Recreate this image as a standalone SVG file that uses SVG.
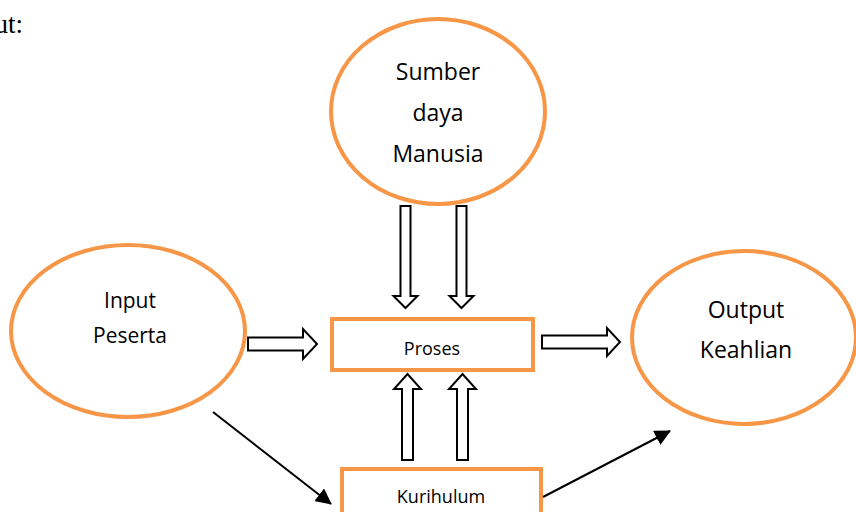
<svg xmlns="http://www.w3.org/2000/svg" width="856" height="512" viewBox="0 0 856 512">
<defs>
<style>
.node{fill:#fff;stroke:#F79646;stroke-width:4}
.t{font-family:"Open Sans","Noto Sans",sans-serif;fill:#000;text-anchor:middle}
.blk{fill:#fff;stroke:#000;stroke-width:2;stroke-linejoin:miter}
.ln{stroke:#000;stroke-width:2;fill:none}
</style>
<marker id="ahb" markerWidth="16" markerHeight="16" refX="15" refY="8" orient="auto" markerUnits="userSpaceOnUse" viewBox="0 0 16 16">
<path d="M0,0 L16,8 L0,16 z" fill="#000"/>
</marker>
</defs>
<rect width="856" height="512" fill="#fff"/>
<text x="23" y="33" font-family="Liberation Serif,serif" font-size="27" text-anchor="end">ut:</text>

<g id="sdm">
<ellipse class="node" cx="438" cy="111.5" rx="107" ry="92.5"/>
<text class="t" font-size="23" x="438" y="80">Sumber</text>
<text class="t" font-size="23" x="438" y="121">daya</text>
<text class="t" font-size="23" x="438" y="162">Manusia</text>
</g>
<g id="input">
<ellipse class="node" cx="128" cy="331" rx="117" ry="86"/>
<text class="t" font-size="21" x="130" y="308">Input</text>
<text class="t" font-size="21" x="130" y="343">Peserta</text>
</g>
<g id="output">
<ellipse class="node" cx="744" cy="337.5" rx="112" ry="86.5"/>
<text class="t" font-size="23" x="746" y="318">Output</text>
<text class="t" font-size="23" x="746" y="358">Keahlian</text>
</g>
<g id="proses">
<rect class="node" x="332" y="319" width="201" height="51"/>
<text class="t" font-size="18" x="432" y="355">Proses</text>
</g>
<g id="kurikulum">
<rect class="node" x="342" y="469" width="199" height="60"/>
<text class="t" font-size="18" x="441" y="503">Kurihulum</text>
</g>

<g id="connectors">
<polygon class="blk" points="400.5,206 410.5,206 410.5,296 417.5,296 405.5,308 393.5,296 400.5,296"/>
<polygon class="blk" points="456.5,206 466.5,206 466.5,296 473.5,296 461.5,308 449.5,296 456.5,296"/>
<polygon class="blk" points="402,460 413,460 413,389 421,389 407.5,374 394,389 402,389"/>
<polygon class="blk" points="457,460 468,460 468,389 476,389 462.5,374 449,389 457,389"/>
<polygon class="blk" points="248,337.5 303,337.5 303,329 317,344 303,359 303,350.5 248,350.5"/>
<polygon class="blk" points="542,335.5 607,335.5 607,328 620,342 607,356 607,348.5 542,348.5"/>
<line class="ln" x1="213" y1="412" x2="331" y2="504" marker-end="url(#ahb)"/>
<line class="ln" x1="543" y1="497" x2="670" y2="431" marker-end="url(#ahb)"/>
</g>
</svg>
